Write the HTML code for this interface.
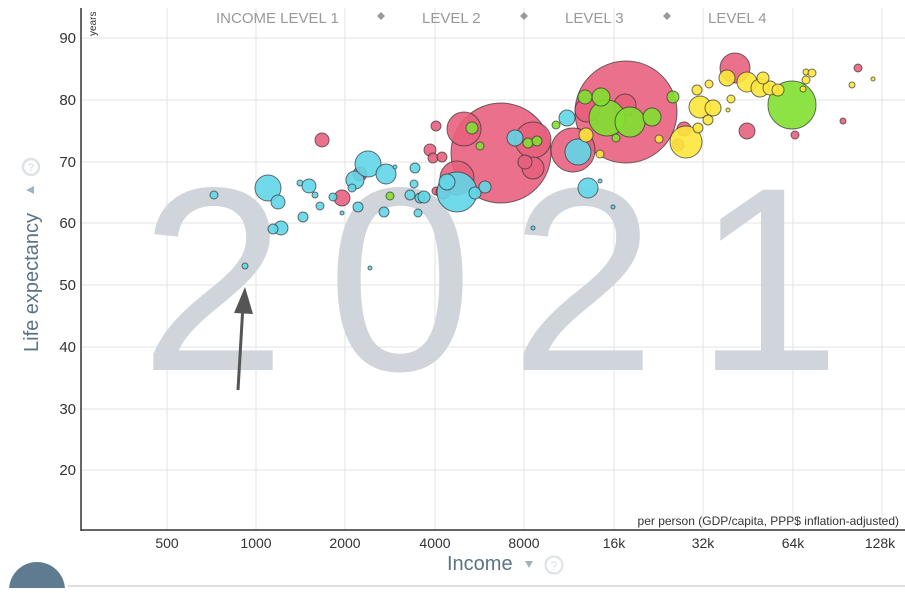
<!DOCTYPE html>
<html><head><meta charset="utf-8"><style>
body{margin:0;background:#fff;width:905px;height:588px;overflow:hidden;font-family:"Liberation Sans",sans-serif}
</style></head><body>
<svg width="905" height="588" xmlns="http://www.w3.org/2000/svg" font-family="Liberation Sans, sans-serif">
<g stroke="#e3e3e3" stroke-width="1">
<line x1="167" y1="8" x2="167" y2="530"/><line x1="256" y1="8" x2="256" y2="530"/><line x1="345" y1="8" x2="345" y2="530"/><line x1="435" y1="8" x2="435" y2="530"/><line x1="524" y1="8" x2="524" y2="530"/><line x1="614" y1="8" x2="614" y2="530"/><line x1="703" y1="8" x2="703" y2="530"/><line x1="793" y1="8" x2="793" y2="530"/><line x1="882" y1="8" x2="882" y2="530"/>
<line x1="81" y1="38" x2="905" y2="38"/><line x1="81" y1="100" x2="905" y2="100"/><line x1="81" y1="162" x2="905" y2="162"/><line x1="81" y1="223" x2="905" y2="223"/><line x1="81" y1="285" x2="905" y2="285"/><line x1="81" y1="347" x2="905" y2="347"/><line x1="81" y1="409" x2="905" y2="409"/><line x1="81" y1="470" x2="905" y2="470"/>
</g>
<g fill="#cfd5db" font-size="262" text-anchor="middle">
<text x="213" y="370">2</text><text x="400" y="370">0</text><text x="583" y="370">2</text><text x="768" y="370">1</text>
</g>
<line x1="81" y1="8" x2="81" y2="531" stroke="#333" stroke-width="1.5"/>
<line x1="81" y1="530" x2="905" y2="530" stroke="#333" stroke-width="1.5"/>
<g fill="#333" font-size="15" text-anchor="end">
<text x="76" y="43">90</text><text x="76" y="105">80</text><text x="76" y="167">70</text><text x="76" y="228">60</text><text x="76" y="290">50</text><text x="76" y="352">40</text><text x="76" y="414">30</text><text x="76" y="475">20</text>
</g>
<g fill="#333" font-size="14" text-anchor="middle">
<text x="167" y="548">500</text><text x="256" y="548">1000</text><text x="345" y="548">2000</text><text x="435" y="548">4000</text><text x="524" y="548">8000</text><text x="614" y="548">16k</text><text x="703" y="548">32k</text><text x="793" y="548">64k</text><text x="880" y="548">128k</text>
</g>
<text x="899" y="525" font-size="12" fill="#333" text-anchor="end">per person (GDP/capita, PPP$ inflation-adjusted)</text>
<text transform="translate(96,8) rotate(-90)" x="-28" y="0" font-size="10" fill="#333">years</text>
<text transform="translate(38,352) rotate(-90)" font-size="20" fill="#5a7486">Life expectancy</text>
<path d="M26,190 L34,186 L34,194 Z" fill="#9fb4bf"/>
<circle cx="31" cy="167" r="8" fill="none" stroke="#dde2e5" stroke-width="2.5"/>
<text x="31" y="171" font-size="11" fill="#dde2e5" text-anchor="middle" font-weight="bold">?</text>
<text x="447" y="570" font-size="20" fill="#5a7486">Income</text>
<path d="M525,561 L533,561 L529,568 Z" fill="#9fb4bf"/>
<circle cx="554" cy="565" r="8.5" fill="none" stroke="#dde2e5" stroke-width="2"/>
<text x="554" y="570" font-size="12" fill="#dde2e5" text-anchor="middle">?</text>
<g fill="#999" font-size="15">
<text x="216" y="23">INCOME LEVEL 1</text><text x="422" y="23">LEVEL 2</text><text x="565" y="23">LEVEL 3</text><text x="708" y="23">LEVEL 4</text>
</g>
<g fill="#999"><path d="M381,12 l4,4 l-4,4 l-4,-4Z"/><path d="M524,12 l4,4 l-4,4 l-4,-4Z"/><path d="M667,12 l4,4 l-4,4 l-4,-4Z"/></g>
<g stroke="#333" stroke-opacity="0.7" stroke-width="1" fill-opacity="0.9">
<g fill="#e8617e">
<circle cx="626" cy="112" r="51"/><circle cx="501" cy="153" r="50"/><circle cx="573" cy="150" r="22"/><circle cx="457" cy="178" r="17"/><circle cx="464" cy="129" r="17"/><circle cx="533" cy="140" r="18"/><circle cx="533" cy="168" r="11"/><circle cx="587" cy="110" r="12"/><circle cx="625" cy="105" r="11"/><circle cx="735" cy="68" r="15"/><circle cx="747" cy="131" r="8"/><circle cx="322" cy="140" r="7"/><circle cx="342" cy="198" r="8"/><circle cx="360" cy="174" r="7"/><circle cx="430" cy="150" r="6"/><circle cx="433" cy="158" r="5"/><circle cx="442" cy="157" r="5"/><circle cx="436" cy="191" r="4"/><circle cx="436" cy="126" r="5"/><circle cx="443" cy="192" r="7"/><circle cx="858" cy="68" r="4"/><circle cx="843" cy="121" r="3"/><circle cx="795" cy="135" r="4"/><circle cx="684" cy="129" r="7"/><circle cx="678" cy="145" r="6"/><circle cx="525" cy="162" r="7"/>
</g>
<g fill="#62d6e8">
<circle cx="457" cy="192" r="20"/><circle cx="578" cy="152" r="13"/><circle cx="588" cy="188" r="10"/><circle cx="567" cy="118" r="8"/><circle cx="515" cy="138" r="8"/><circle cx="475" cy="193" r="6"/><circle cx="485" cy="187" r="6"/><circle cx="447" cy="182" r="8"/><circle cx="533" cy="228" r="2"/><circle cx="613" cy="207" r="2"/><circle cx="600" cy="181" r="2"/>
<circle cx="214" cy="195" r="4"/><circle cx="268" cy="188" r="13"/><circle cx="278" cy="202" r="7"/><circle cx="281" cy="228" r="7"/><circle cx="273" cy="229" r="5"/><circle cx="303" cy="217" r="5"/><circle cx="300" cy="183" r="3"/><circle cx="309" cy="186" r="7"/><circle cx="315" cy="195" r="3"/><circle cx="320" cy="206" r="4"/><circle cx="333" cy="197" r="4"/><circle cx="342" cy="213" r="2"/><circle cx="355" cy="180" r="9"/><circle cx="352" cy="188" r="4"/><circle cx="358" cy="207" r="5"/><circle cx="368" cy="164" r="13"/><circle cx="386" cy="174" r="10"/><circle cx="384" cy="212" r="5"/><circle cx="410" cy="195" r="5"/><circle cx="414" cy="184" r="4"/><circle cx="420" cy="198" r="5"/><circle cx="418" cy="213" r="4"/><circle cx="415" cy="168" r="5"/><circle cx="424" cy="197" r="6"/><circle cx="370" cy="268" r="2"/><circle cx="245" cy="266" r="3"/><circle cx="395" cy="167" r="2"/>
</g>
<g fill="#82e030">
<circle cx="792" cy="105" r="24"/><circle cx="607" cy="118" r="18"/><circle cx="630" cy="122" r="15"/><circle cx="652" cy="117" r="9"/><circle cx="601" cy="97" r="9"/><circle cx="585" cy="97" r="7"/><circle cx="673" cy="97" r="6"/><circle cx="472" cy="128" r="6"/><circle cx="480" cy="146" r="4"/><circle cx="528" cy="143" r="5"/><circle cx="537" cy="141" r="5"/><circle cx="556" cy="125" r="4"/><circle cx="390" cy="196" r="4"/><circle cx="616" cy="138" r="4"/>
</g>
<g fill="#fde63a">
<circle cx="686" cy="142" r="16"/><circle cx="700" cy="107" r="11"/><circle cx="713" cy="108" r="8"/><circle cx="708" cy="120" r="5"/><circle cx="697" cy="90" r="5"/><circle cx="709" cy="84" r="4"/><circle cx="727" cy="78" r="8"/><circle cx="747" cy="82" r="10"/><circle cx="760" cy="88" r="9"/><circle cx="770" cy="88" r="7"/><circle cx="778" cy="90" r="6"/><circle cx="763" cy="78" r="6"/><circle cx="806" cy="72" r="3"/><circle cx="812" cy="73" r="4"/><circle cx="806" cy="80" r="4"/><circle cx="803" cy="89" r="3"/><circle cx="852" cy="85" r="3"/><circle cx="873" cy="79" r="2"/><circle cx="731" cy="99" r="4"/><circle cx="728" cy="110" r="2"/><circle cx="600" cy="154" r="4"/><circle cx="659" cy="139" r="4"/><circle cx="586" cy="135" r="7"/><circle cx="698" cy="128" r="5"/>
</g>
</g>
<line x1="238" y1="390" x2="243" y2="305" stroke="#555" stroke-width="3"/>
<path d="M234,313 L245,287 L253,314 Z" fill="#555"/>
<circle cx="37" cy="590" r="28" fill="#5e7b8f"/>
<line x1="68" y1="586" x2="905" y2="586" stroke="#ddd" stroke-width="2"/>
</svg>
</body></html>
